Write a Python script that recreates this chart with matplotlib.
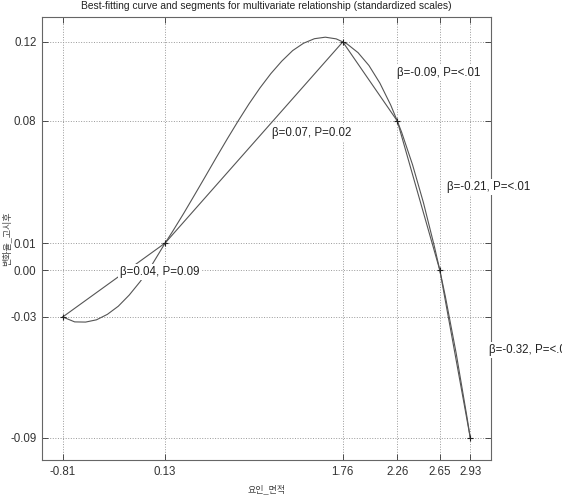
import matplotlib
matplotlib.use('Agg')
from matplotlib import pyplot as plt

# points joined by the segments (standardized scales)
seg_x = [-0.81, 0.13, 1.76, 2.26, 2.65, 2.93]
seg_y = [-0.0279, 0.0113, 0.1179, 0.0760, -0.0030, -0.0920]
xtick_labels = ['-0.81', '0.13', '1.76', '2.26', '2.65', '2.93']
ytick_vals = [-0.0920, -0.0279, -0.0030, 0.0113, 0.0760, 0.1179]
ytick_labels = ['-0.09', '-0.03', '0.00', '0.01', '0.08', '0.12']

# best-fitting curve
curve_x = [-0.81, -0.70, -0.60, -0.50, -0.40, -0.30, -0.20, -0.10, 0.00, 0.13,
           0.20, 0.30, 0.40, 0.50, 0.60, 0.70, 0.80, 0.90, 1.00, 1.10,
           1.20, 1.30, 1.40, 1.50, 1.60, 1.70, 1.76, 1.80, 1.90, 2.00,
           2.10, 2.20, 2.26, 2.30, 2.40, 2.50, 2.60, 2.65, 2.70, 2.80,
           2.90, 2.93]
curve_y = [-0.0279, -0.0305, -0.0306, -0.0294, -0.0265, -0.0222, -0.0163, -0.0092, -0.0011, 0.0113,
           0.0176, 0.0270, 0.0368, 0.0467, 0.0567, 0.0665, 0.0760, 0.0851, 0.0935, 0.1011,
           0.1077, 0.1133, 0.1172, 0.1196, 0.1204, 0.1195, 0.1179, 0.1168, 0.1122, 0.1054,
           0.0961, 0.0844, 0.0760, 0.0700, 0.0528, 0.0327, 0.0096, -0.0030, -0.0167, -0.0470,
           -0.0811, -0.0920]

seg_labels = ['β=0.04, P=0.09', 'β=0.07, P=0.02', 'β=-0.09, P=<.01',
              'β=-0.21, P=<.01', 'β=-0.32, P=<.01']
label_pos = [(-0.28, -0.0041), (1.11, 0.0696), (2.26, 0.1015),
             (2.72, 0.0410), (3.10, -0.0454)]

plt.rcParams['font.family'] = ['Liberation Sans', 'Noto Sans CJK KR', 'DejaVu Sans']

fig = plt.figure(figsize=(5.62, 4.99), dpi=100)
ax = fig.add_axes([42 / 562, 39 / 499, 449 / 562, 443 / 499])

ax.plot(curve_x, curve_y, '-', color='#555555', lw=0.8, zorder=2)
ax.plot(seg_x, seg_y, '-', color='#555555', lw=0.8, zorder=2)
ax.plot(seg_x, seg_y, '+', color='#222222', ms=5, mew=0.8, zorder=3)

for s, (tx, ty) in zip(seg_labels, label_pos):
    ax.text(tx, ty, s, fontsize=8.3, color='#222222', ha='left', va='center',
            bbox=dict(facecolor='white', edgecolor='none', pad=1.5), zorder=4)

ax.set_xlim(-1.0, 3.12)
ax.set_ylim(-0.1037, 0.1311)
ax.set_xticks(seg_x)
ax.set_xticklabels(xtick_labels)
ax.set_yticks(ytick_vals)
ax.set_yticklabels(ytick_labels)
ax.tick_params(direction='in', length=4, width=0.6, labelsize=8.3,
               colors='#333333', top=True, right=True, pad=4)
ax.grid(True, linestyle=':', color='#999999', lw=0.7)
for sp in ax.spines.values():
    sp.set_color('#666666')
    sp.set_linewidth(0.8)

ax.set_title('Best-fitting curve and segments for multivariate relationship (standardized scales)',
             fontsize=7.4, color='#222222', pad=6)
ax.set_xlabel('요인_면적', fontsize=6.5, color='#444444', labelpad=5)
ax.set_ylabel('변화율_고시후', fontsize=6.5, color='#444444')
ax.yaxis.set_label_coords(-0.068, 0.5)

fig.savefig('out.png', dpi=100)
